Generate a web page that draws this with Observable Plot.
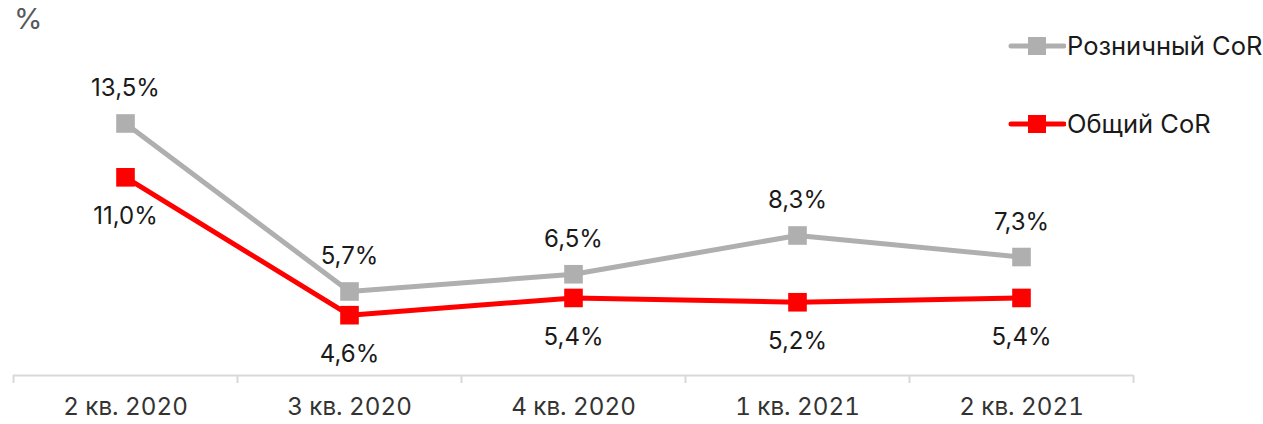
<!DOCTYPE html>
<html>
<head>
<meta charset="utf-8">
<script src="https://cdn.jsdelivr.net/npm/d3@7"></script>
<script src="https://cdn.jsdelivr.net/npm/@observablehq/plot@0.6"></script>
<style>
  html, body { margin: 0; padding: 0; background: #fff; }
  #wrap { position: relative; width: 1263px; height: 424px; font-family: Inter, Roboto, sans-serif; }
  #unit { position: absolute; left: 14px; top: 1px; font-size: 29px; color: #595959; }
  .leg { position: absolute; left: 1008px; display: flex; align-items: center; font-size: 25.5px; color: #1a1a1a; }
  .leg svg { margin-right: 1px; }
</style>
</head>
<body>
<div id="wrap">
  <div id="unit">%</div>
  <div class="leg" style="top: 30px;"><svg width="58" height="30"><line x1="3" y1="15" x2="56" y2="15" stroke="#afafaf" stroke-width="5" stroke-linecap="round"/><rect x="20" y="6" width="18" height="18" fill="#afafaf"/></svg><span>Розничный CoR</span></div>
  <div class="leg" style="top: 108px;"><svg width="58" height="30"><line x1="3" y1="15" x2="56" y2="15" stroke="#ff0000" stroke-width="5" stroke-linecap="round"/><rect x="20" y="6" width="18" height="18" fill="#ff0000"/></svg><span>Общий CoR</span></div>
</div>
<script>
const quarters = ["2 кв. 2020", "3 кв. 2020", "4 кв. 2020", "1 кв. 2021", "2 кв. 2021"];
const retailCoR = [13.5, 5.7, 6.5, 8.3, 7.3];
const totalCoR = [11.0, 4.6, 5.4, 5.2, 5.4];

const retail = quarters.map((q, i) => ({i, v: retailCoR[i]}));
const total = quarters.map((q, i) => ({i, v: totalCoR[i]}));
const fmt = v => v.toFixed(1).replace(".", ",") + "%";
const yMin = 1.8;
const boundaries = d3.range(quarters.length + 1).map(k => k - 0.5);

const chart = Plot.plot({
  width: 1263,
  height: 424,
  marginLeft: 13,
  marginRight: 130,
  marginTop: 20,
  marginBottom: 49,
  style: {fontFamily: "Inter, Roboto, sans-serif", background: "transparent"},
  x: {domain: [-0.5, quarters.length - 0.5]},
  y: {domain: [yMin, 18.28], axis: null},
  marks: [
    Plot.ruleY([yMin], {stroke: "#d9d9d9", strokeWidth: 2}),
    Plot.axisX(boundaries, {tickSize: 8, tickFormat: () => "", stroke: "#d9d9d9", strokeWidth: 2, label: null}),
    Plot.axisX(d3.range(quarters.length), {tickSize: 0, tickPadding: 22, tickFormat: i => quarters[i], fontSize: 24.2, fill: "#333", label: null}),
    Plot.line(retail, {x: "i", y: "v", stroke: "#afafaf", strokeWidth: 5}),
    Plot.line(total, {x: "i", y: "v", stroke: "#ff0000", strokeWidth: 5}),
    Plot.dot(retail, {x: "i", y: "v", symbol: "square", r: 10.5, fill: "#afafaf"}),
    Plot.dot(total, {x: "i", y: "v", symbol: "square", r: 10.5, fill: "#ff0000"}),
    Plot.text(retail, {x: "i", y: "v", text: d => fmt(d.v), dy: -35, fontSize: 24, fill: "#1a1a1a"}),
    Plot.text(total, {x: "i", y: "v", text: d => fmt(d.v), dy: 39, fontSize: 24, fill: "#1a1a1a"})
  ]
});
document.getElementById("wrap").appendChild(chart);
chart.style.position = "absolute";
chart.style.left = "0";
chart.style.top = "0";
</script>
</body>
</html>
